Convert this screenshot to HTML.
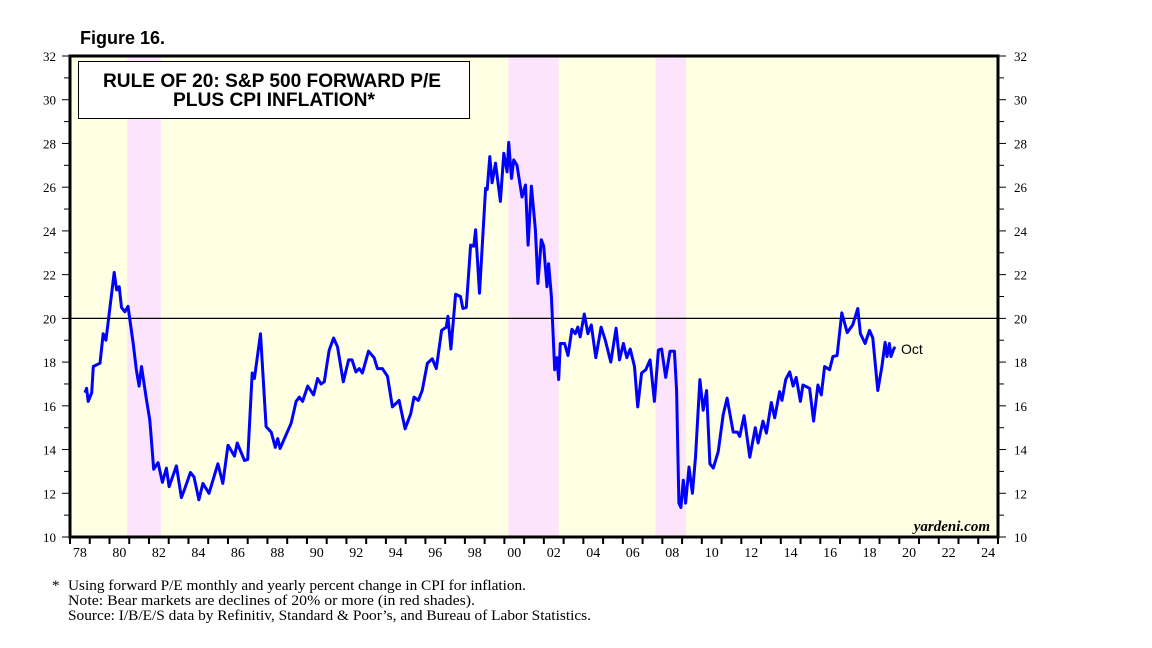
<!DOCTYPE html>
<html><head><meta charset="utf-8"><style>
body{margin:0;background:#fff;width:1152px;height:648px;overflow:hidden}
svg{display:block}
</style></head><body>
<svg id="chart" width="1152" height="648" xmlns="http://www.w3.org/2000/svg">
<text x="80" y="44" font-family="Liberation Sans, sans-serif" font-weight="bold" font-size="18">Figure 16.</text>
<g id="plot"></g>
<g id="axes"></g>
<g>
<rect x="78.5" y="61.5" width="391" height="57" fill="#fff" stroke="#000" stroke-width="1"/>
<text x="272" y="87" text-anchor="middle" font-family="Liberation Sans, sans-serif" font-weight="bold" font-size="19" textLength="338" lengthAdjust="spacingAndGlyphs">RULE OF 20: S&amp;P 500 FORWARD P/E</text>
<text x="274" y="106" text-anchor="middle" font-family="Liberation Sans, sans-serif" font-weight="bold" font-size="19" textLength="202" lengthAdjust="spacingAndGlyphs">PLUS CPI INFLATION*</text>
</g>
<text x="990" y="531" text-anchor="end" font-family="Liberation Serif, serif" font-style="italic" font-weight="bold" font-size="15">yardeni.com</text>
<text x="901" y="354" font-family="Liberation Sans, sans-serif" font-size="14">Oct</text>
<g font-family="Liberation Serif, serif" font-size="15">
<text x="52" y="590">*</text>
<text x="68" y="590" textLength="458" lengthAdjust="spacingAndGlyphs">Using forward P/E monthly and yearly percent change in CPI for inflation.</text>
<text x="68" y="605" textLength="407" lengthAdjust="spacingAndGlyphs">Note: Bear markets are declines of 20% or more (in red shades).</text>
<text x="68" y="620" textLength="523" lengthAdjust="spacingAndGlyphs">Source: I/B/E/S data by Refinitiv, Standard &amp; Poor’s, and Bureau of Labor Statistics.</text>
</g>
</svg>
<script>
const years=[1978.76,1978.84,1978.92,1979.10,1979.18,1979.52,1979.68,1979.82,1979.93,1980.24,1980.36,1980.49,1980.61,1980.78,1980.94,1981.20,1981.37,1981.50,1981.62,1981.87,1982.04,1982.24,1982.46,1982.68,1982.88,1983.02,1983.39,1983.64,1983.81,1984.10,1984.28,1984.53,1984.73,1985.04,1985.49,1985.74,1986.0,1986.33,1986.47,1986.84,1987.0,1987.23,1987.34,1987.65,1987.93,1988.19,1988.40,1988.52,1988.64,1988.86,1989.20,1989.45,1989.62,1989.78,1990.04,1990.34,1990.54,1990.71,1990.88,1991.02,1991.13,1991.35,1991.55,1991.84,1992.11,1992.28,1992.48,1992.65,1992.81,1993.12,1993.40,1993.57,1993.82,1994.08,1994.33,1994.67,1994.97,1995.26,1995.42,1995.64,1995.84,1996.10,1996.35,1996.55,1996.82,1997.06,1997.14,1997.29,1997.53,1997.78,1997.90,1998.07,1998.29,1998.45,1998.54,1998.74,1999.05,1999.13,1999.26,1999.38,1999.55,1999.80,1999.97,2000.14,2000.22,2000.36,2000.47,2000.64,2000.89,2001.07,2001.20,2001.37,2001.57,2001.70,2001.87,2001.99,2002.16,2002.24,2002.38,2002.55,2002.66,2002.75,2002.83,2003.05,2003.22,2003.42,2003.59,2003.72,2003.84,2004.05,2004.23,2004.40,2004.63,2004.90,2005.11,2005.39,2005.66,2005.83,2006.03,2006.20,2006.37,2006.59,2006.75,2006.95,2007.16,2007.38,2007.60,2007.80,2007.96,2008.17,2008.39,2008.61,2008.72,2008.84,2008.94,2009.06,2009.18,2009.35,2009.52,2009.68,2009.90,2010.07,2010.24,2010.41,2010.58,2010.83,2011.08,2011.28,2011.59,2011.80,2011.92,2012.14,2012.43,2012.71,2012.85,2013.10,2013.27,2013.52,2013.69,2013.94,2014.06,2014.25,2014.45,2014.62,2014.78,2014.99,2015.12,2015.46,2015.66,2015.88,2016.05,2016.22,2016.47,2016.64,2016.85,2017.09,2017.36,2017.64,2017.90,2018.03,2018.27,2018.49,2018.66,2018.91,2019.12,2019.28,2019.38,2019.50,2019.58,2019.72,2019.79];
const values=[16.6,16.8,16.2,16.6,17.8,17.95,19.3,19.0,19.8,22.1,21.3,21.45,20.5,20.3,20.55,18.85,17.6,16.9,17.8,16.3,15.35,13.1,13.4,12.5,13.15,12.3,13.25,11.8,12.2,12.95,12.75,11.7,12.45,12.0,13.35,12.45,14.2,13.7,14.3,13.5,13.55,17.5,17.25,19.3,15.05,14.8,14.1,14.5,14.05,14.5,15.2,16.2,16.4,16.2,16.9,16.5,17.25,17.0,17.1,17.95,18.55,19.1,18.7,17.1,18.1,18.1,17.55,17.7,17.5,18.5,18.2,17.7,17.7,17.35,15.95,16.25,14.95,15.65,16.4,16.25,16.7,17.95,18.15,17.7,19.45,19.6,20.1,18.6,21.1,21.0,20.45,20.5,23.35,23.3,24.05,21.15,25.95,25.9,27.4,26.2,27.1,25.35,27.55,26.7,28.05,26.4,27.25,27.0,25.55,26.1,23.35,26.05,24.05,21.6,23.6,23.3,21.45,22.5,21.0,17.65,18.2,17.2,18.85,18.85,18.3,19.5,19.3,19.6,19.15,20.2,19.3,19.7,18.2,19.6,19.0,18.0,19.55,18.1,18.85,18.2,18.6,17.8,15.95,17.5,17.65,18.1,16.2,18.55,18.6,17.3,18.5,18.5,16.7,11.55,11.35,12.6,11.55,13.2,12.0,13.65,17.2,15.8,16.7,13.35,13.15,13.9,15.6,16.35,14.8,14.8,14.6,15.55,13.65,15.0,14.3,15.3,14.75,16.15,15.45,16.65,16.25,17.2,17.55,16.9,17.3,16.2,16.95,16.8,15.3,16.95,16.5,17.8,17.65,18.25,18.3,20.25,19.35,19.7,20.45,19.3,18.85,19.45,19.1,16.7,17.8,18.9,18.25,18.85,18.25,18.6,18.7];
const bearStarts=[1980.9,2000.2,2007.65];
const bearEnds=[1982.6,2002.75,2009.2];
const yTicks=[10,12,14,16,18,20,22,24,26,28,30,32];
const xTickLabels=["78","80","82","84","86","88","90","92","94","96","98","00","02","04","06","08","10","12","14","16","18","20","22","24"];
const NS="http://www.w3.org/2000/svg";
const L=70,R=998,T=56,B=537,X0=1978,X1=2025,Y0=10,Y1=32;
const xs=v=>L+(v-X0)/(X1-X0)*(R-L);
const ys=v=>B-(v-Y0)/(Y1-Y0)*(B-T);
function mk(tag,attrs,parent){const e=document.createElementNS(NS,tag);for(const k in attrs)e.setAttribute(k,attrs[k]);parent.appendChild(e);return e;}
const plot=document.getElementById('plot'),axes=document.getElementById('axes');
const bg=mk('rect',{x:L,y:T,width:R-L,height:B-T,fill:'#FFFFE3'},plot);


bearStarts.forEach((s,i)=>{
 const r=mk('rect',{x:xs(s),y:T,width:xs(bearEnds[i])-xs(s),height:B-T,fill:'#FCE4FC'},plot);
 
 
});
const ref=mk('line',{x1:L,x2:R,y1:ys(20),y2:ys(20),stroke:'#000','stroke-width':1.2},plot);


let d=years.map((y,i)=>(i?'L':'M')+xs(y).toFixed(1)+' '+ys(values[i]).toFixed(1)).join(' ');
const line=mk('path',{d:d,fill:'none',stroke:'#0000FF','stroke-width':3,'stroke-linejoin':'round'},plot);


const frame=mk('rect',{x:L,y:T,width:R-L,height:B-T,fill:'none',stroke:'#000','stroke-width':3},axes);


for(let v=Y0;v<=Y1;v++){
 const len=v%2===0?8:6;
 mk('line',{x1:L-len,x2:L,y1:ys(v),y2:ys(v),stroke:'#000','stroke-width':1},axes);
 mk('line',{x1:R,x2:R+len,y1:ys(v),y2:ys(v),stroke:'#000','stroke-width':1},axes);
}
yTicks.forEach(v=>{
 const t1=mk('text',{x:L-14,y:ys(v)+5,'text-anchor':'end','font-family':'Liberation Serif, serif','font-size':13},axes);
 t1.textContent=v;
 
 
 const t2=mk('text',{x:R+16,y:ys(v)+5,'font-family':'Liberation Serif, serif','font-size':13},axes);
 t2.textContent=v;
 
 
});
for(let y=X0;y<=X1;y++){mk('line',{x1:xs(y),x2:xs(y),y1:B,y2:B+7,stroke:'#000','stroke-width':2},axes);}
xTickLabels.forEach((lab,i)=>{
 const t=mk('text',{x:xs(X0+2*i+0.5),y:B+20,'text-anchor':'middle','font-family':'Liberation Serif, serif','font-size':14},axes);
 t.textContent=lab;
 
 
});
</script>
</body></html>
